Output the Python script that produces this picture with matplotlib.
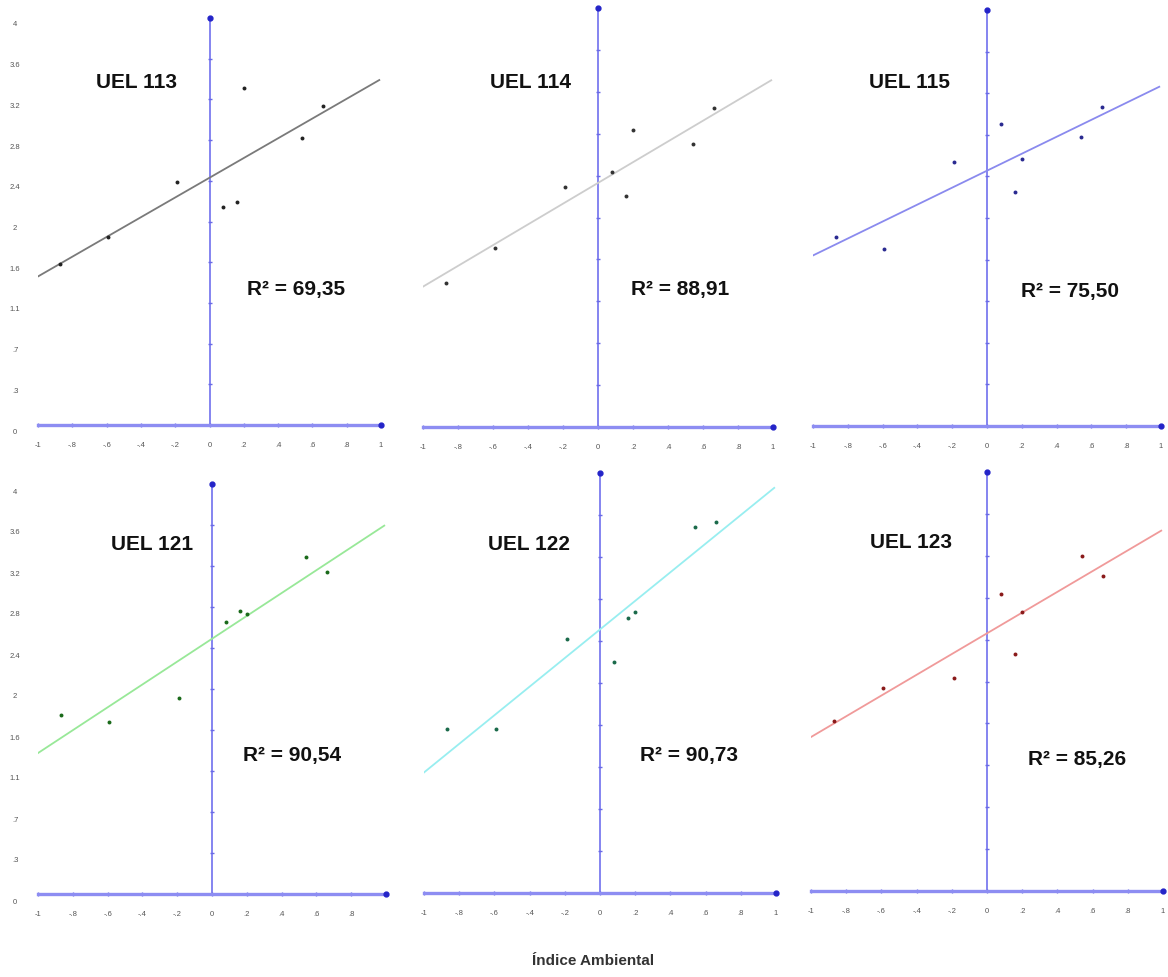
import matplotlib
matplotlib.use('Agg')
import matplotlib.pyplot as plt
import matplotlib.transforms as mtransforms
import numpy as np

# ---------------- data ----------------
env_index = [-0.87, -0.59, -0.19, 0.08, 0.16, 0.20, 0.54, 0.66]
cultivars = ['UEL 113', 'UEL 114', 'UEL 115', 'UEL 121', 'UEL 122', 'UEL 123']
r2_labels = ['69,35', '88,91', '75,50', '90,54', '90,73', '85,26']
yield_113 = [1.58, 1.85, 2.39, 2.14, 2.19, 3.31, 2.82, 3.14]
yield_114 = [1.37, 1.71, 2.29, 2.43, 2.21, 2.84, 2.70, 3.05]
yield_115 = [1.82, 1.70, 2.54, 2.90, 2.25, 2.57, 2.78, 3.07]
yield_121 = [1.75, 1.68, 1.91, 2.65, 2.76, 2.73, 3.29, 3.14]
yield_122 = [1.56, 1.56, 2.42, 2.20, 2.62, 2.68, 3.49, 3.53]
yield_123 = [1.62, 1.94, 2.03, 2.84, 2.26, 2.66, 3.20, 3.01]
intercepts = [2.43, 2.33, 2.455, 2.49, 2.51, 2.46]
slopes = [0.97, 0.99, 0.815, 1.115, 1.362, 0.99]
x_ticks = [-1, -0.8, -0.6, -0.4, -0.2, 0, 0.2, 0.4, 0.6, 0.8, 1]
x_tick_labels = ['-1', '-.8', '-.6', '-.4', '-.2', '0', '.2', '.4', '.6', '.8', '1']
y_ticks = [0, 0.4, 0.8, 1.2, 1.6, 2.0, 2.4, 2.8, 3.2, 3.6, 4.0]
y_tick_labels = ['0', '.3', '.7', '1.1', '1.6', '2', '2.4', '2.8', '3.2', '3.6', '4']
x_label = 'Índice Ambiental'

yields = [yield_113, yield_114, yield_115, yield_121, yield_122, yield_123]

# ---------------- style / layout ----------------
W, H = 1168, 977
fig = plt.figure(figsize=(W / 100, H / 100), dpi=100)
fig.patch.set_facecolor('white')

FONT = ['Liberation Sans Narrow', 'Liberation Sans', 'DejaVu Sans']

# (left px, right px, y=0 px, y=4 px)
rects = [(38, 381, 425, 18), (423, 773, 427, 8), (813, 1161, 426, 10),
         (38, 386, 894, 484), (424, 776, 893, 473), (811, 1163, 891, 472)]
line_colors = ['#7a7a7a', '#cdcdcd', '#8a8aee', '#98e898', '#98eef0', '#f09a9a']
point_colors = ['#222222', '#333333', '#2a2a90', '#1a6a1a', '#1a6a4a', '#8a1a1a']
title_pos = [(137, 82), (531, 82), (910, 83), (152, 545), (529, 545), (911, 543)]
r2_pos = [(296, 289), (680, 290), (1070, 291), (292, 756), (689, 755), (1077, 759)]
label_offset = [7, 7, 7, 8, 8, 8]

axis_blue = '#8d8df2'
tick_blue = '#6a6ae6'
dot_blue = '#2424c8'

for i, (l, r, b, t) in enumerate(rects):
    ax = fig.add_axes([l / W, 1 - b / H, (r - l) / W, (b - t) / H])
    ax.set_xlim(-1, 1)
    ax.set_ylim(0, 4)
    ax.patch.set_alpha(0)
    for s in ['top', 'right', 'left']:
        ax.spines[s].set_visible(False)
    ax.spines['bottom'].set_color(axis_blue)
    ax.spines['bottom'].set_linewidth(2.4)

    labels = list(x_tick_labels)
    if i == 3:
        labels[-1] = ''
    ax.set_xticks(x_ticks)
    ax.set_xticklabels(labels, family=FONT)
    ax.tick_params(axis='x', direction='inout', length=3, width=1,
                   color=tick_blue, pad=11, labelsize=5.5, labelcolor='#555555')
    ax.set_yticks([])

    # vertical axis at x = 0
    ax.plot([0, 0], [0, 4], color='#7b7bef', lw=1.3, clip_on=False, zorder=1)
    ax.plot(np.zeros(len(y_ticks) - 2), y_ticks[1:-1], marker='_', ms=3, mew=1,
            color=tick_blue, ls='none', zorder=1)
    ax.plot([1], [0], 'o', ms=3.5, color=dot_blue, clip_on=False, zorder=4)
    ax.plot([0], [4], 'o', ms=3.5, color=dot_blue, clip_on=False, zorder=4)

    # regression line and points
    xs = np.array([-1, 0.99])
    ax.plot(xs, intercepts[i] + slopes[i] * xs, color=line_colors[i], lw=1.3, zorder=2)
    ax.scatter(env_index, yields[i], s=8, color=point_colors[i], zorder=3, linewidths=0)

    # left-column y labels
    if i in (0, 3):
        trans = mtransforms.blended_transform_factory(fig.transFigure, ax.transData)
        trans = mtransforms.offset_copy(trans, fig=fig, y=-label_offset[i], units='dots')
        for v, lbl in zip(y_ticks, y_tick_labels):
            ax.text(15 / W, v, lbl, transform=trans, ha='center', va='center',
                    fontsize=5.5, color='#555555', family=FONT, clip_on=False)

    cx, cy = title_pos[i]
    fig.text(cx / W, 1 - cy / H, cultivars[i], ha='center', va='center',
             fontsize=15, fontweight='bold', family=FONT, color='#111111')
    cx, cy = r2_pos[i]
    fig.text(cx / W, 1 - cy / H, 'R² = ' + r2_labels[i], ha='center', va='center',
             fontsize=15, fontweight='bold', family=FONT, color='#111111')

fig.text(593 / W, 1 - 961 / H, x_label, ha='center', va='center',
         fontsize=11, fontweight='bold', family=FONT, color='#333333')

fig.savefig('out.png', dpi=100)
